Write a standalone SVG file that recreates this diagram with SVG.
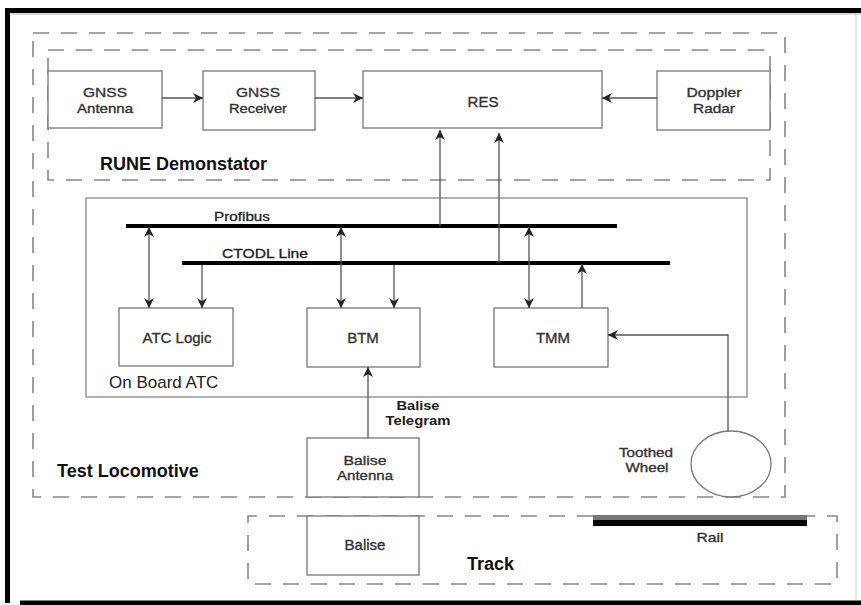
<svg xmlns="http://www.w3.org/2000/svg" width="861" height="605" viewBox="0 0 861 605">
<defs>
<style>
.frame{fill:none;stroke:#000;stroke-width:5}
.dash{fill:none;stroke:#888;stroke-width:1.6;stroke-dasharray:16 12}
.box{fill:#fff;stroke:#777;stroke-width:1.3}
.cont{fill:none;stroke:#888;stroke-width:1.3}
.bus{stroke:#000;stroke-width:4;fill:none}
.wire{stroke:#555;stroke-width:1.3;fill:none}
.lbl{font-family:"Liberation Sans",Arial,sans-serif;font-size:15px;fill:#333;text-anchor:middle;stroke:#333;stroke-width:0.35}
.two{font-size:13px}
.hdr{font-family:"Liberation Sans",Arial,sans-serif;font-size:18px;font-weight:bold;fill:#111}
.sub{font-family:"Liberation Sans",Arial,sans-serif;font-size:13px;fill:#222;text-anchor:middle;stroke:#222;stroke-width:0.3}
</style>
<marker id="ah" markerUnits="userSpaceOnUse" markerWidth="10" markerHeight="10" viewBox="0 0 8 8" refX="8" refY="4" orient="auto-start-reverse">
<path d="M0,0 L8,4 L0,8 L2.5,4 z" fill="#222"/>
</marker>
</defs>
<rect width="861" height="605" fill="#fff"/>

<!-- outer frame -->
<g id="frame">
<path d="M7.5,10.5 H861" class="frame"/>
<path d="M7.5,8 V603" class="frame"/>
<path d="M20,603 H861" class="frame"/>
<path d="M10,14 H861" stroke="#ccc" stroke-width="1.5"/>
<path d="M856,14 V600" stroke="#ddd" stroke-width="1.5"/>
</g>

<!-- containers -->
<g id="test-locomotive">
<rect x="33" y="33" width="752" height="464" class="dash"/>
<text x="57" y="477" class="hdr">Test Locomotive</text>
</g>
<g id="rune-demonstator">
<rect x="48" y="50" width="722" height="130" class="dash"/>
<text x="100" y="170" class="hdr">RUNE Demonstator</text>
</g>
<g id="on-board-atc">
<rect x="86" y="198" width="661" height="199" class="cont"/>
<text x="109" y="388" class="hdr" style="font-weight:normal;font-size:17px;fill:#222">On Board ATC</text>
</g>
<g id="track">
<path d="M593,516 H248 V584 H837 V516 H807" class="dash"/>
<text x="467" y="570" class="hdr">Track</text>
</g>

<!-- nodes -->
<g id="gnss-antenna">
<rect x="48" y="71" width="114" height="57" class="box"/>
<text x="105" y="97" class="lbl two" textLength="44" lengthAdjust="spacingAndGlyphs">GNSS</text>
<text x="105" y="112.5" class="lbl two" textLength="56" lengthAdjust="spacingAndGlyphs">Antenna</text>
</g>
<g id="gnss-receiver">
<rect x="203" y="71" width="112" height="59" class="box"/>
<text x="258" y="97" class="lbl two" textLength="44" lengthAdjust="spacingAndGlyphs">GNSS</text>
<text x="258" y="112.5" class="lbl two" textLength="58" lengthAdjust="spacingAndGlyphs">Receiver</text>
</g>
<g id="res">
<rect x="363" y="71" width="239" height="57" class="box"/>
<text x="483" y="107" class="lbl">RES</text>
</g>
<g id="doppler-radar">
<rect x="657" y="71" width="113" height="59" class="box"/>
<text x="714" y="97" class="lbl two" textLength="55" lengthAdjust="spacingAndGlyphs">Doppler</text>
<text x="714" y="113" class="lbl two" textLength="42" lengthAdjust="spacingAndGlyphs">Radar</text>
</g>
<g id="atc-logic">
<rect x="119" y="308" width="114" height="58" class="box"/>
<text x="177" y="343" class="lbl">ATC Logic</text>
</g>
<g id="btm">
<rect x="307" y="308" width="113" height="59" class="box"/>
<text x="363" y="343" class="lbl">BTM</text>
</g>
<g id="tmm">
<rect x="494" y="308" width="114" height="59" class="box"/>
<text x="553" y="343" class="lbl">TMM</text>
</g>
<g id="balise-antenna">
<rect x="307" y="438" width="112" height="59" class="box"/>
<text x="365" y="464.5" class="lbl two" textLength="43" lengthAdjust="spacingAndGlyphs">Balise</text>
<text x="365" y="480" class="lbl two" textLength="56" lengthAdjust="spacingAndGlyphs">Antenna</text>
</g>
<g id="balise">
<rect x="307" y="516" width="112" height="59" class="box"/>
<text x="365" y="550" class="lbl">Balise</text>
</g>
<g id="toothed-wheel">
<ellipse cx="731" cy="464" rx="40" ry="33" class="box"/>
<text x="646" y="456.5" class="lbl two" textLength="54" lengthAdjust="spacingAndGlyphs">Toothed</text>
<text x="647" y="472" class="lbl two" textLength="43" lengthAdjust="spacingAndGlyphs">Wheel</text>
</g>
<g id="rail">
<rect x="593" y="515" width="214" height="5" fill="#777"/>
<rect x="593" y="520" width="214" height="6" fill="#000"/>
<text x="710" y="542" class="lbl two" textLength="27" lengthAdjust="spacingAndGlyphs">Rail</text>
</g>

<!-- connectors -->
<g id="connectors">
<path d="M126,226 H617" class="bus"/>
<text x="242" y="221" class="sub" textLength="56" lengthAdjust="spacingAndGlyphs">Profibus</text>
<path d="M182,263 H670" class="bus"/>
<text x="265" y="258" class="sub" textLength="86" lengthAdjust="spacingAndGlyphs">CTODL Line</text>

<path d="M162,98 H203" class="wire" marker-end="url(#ah)"/>
<path d="M315,98 H363" class="wire" marker-end="url(#ah)"/>
<path d="M657,98 H602" class="wire" marker-end="url(#ah)"/>

<path d="M440,226 V130" class="wire" marker-end="url(#ah)"/>
<path d="M499,263 V133" class="wire" marker-end="url(#ah)"/>

<path d="M149,227 V308" class="wire" marker-start="url(#ah)" marker-end="url(#ah)"/>
<path d="M202,265 V308" class="wire" marker-end="url(#ah)"/>
<path d="M341,227 V308" class="wire" marker-start="url(#ah)" marker-end="url(#ah)"/>
<path d="M394,265 V308" class="wire" marker-end="url(#ah)"/>
<path d="M529,227 V308" class="wire" marker-start="url(#ah)" marker-end="url(#ah)"/>
<path d="M582,308 V264" class="wire" marker-end="url(#ah)"/>

<path d="M368,438 V367" class="wire" marker-end="url(#ah)"/>
<text x="418" y="409.5" class="sub" style="font-weight:bold;stroke-width:0" textLength="43" lengthAdjust="spacingAndGlyphs">Balise</text>
<text x="418" y="425" class="sub" style="font-weight:bold;stroke-width:0" textLength="65" lengthAdjust="spacingAndGlyphs">Telegram</text>

<path d="M728,431 V335 H608" class="wire" marker-end="url(#ah)"/>
</g>
</svg>
